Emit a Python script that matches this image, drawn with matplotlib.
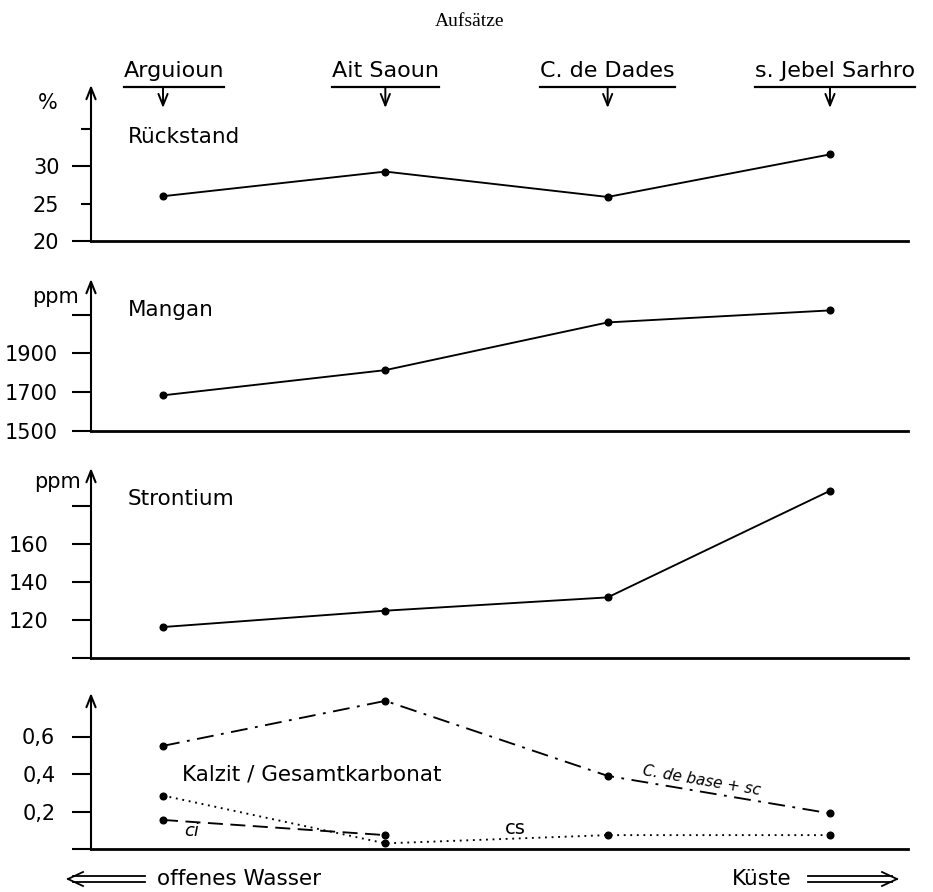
import numpy as np
import matplotlib
matplotlib.use("Agg")
import matplotlib.pyplot as plt
from matplotlib.lines import Line2D

W, H = 933, 892
plt.rcParams["font.family"] = ["DejaVu Sans"]

stations = ["Arguioun", "Ait Saoun", "C. de Dades", "s. Jebel Sarhro"]
x = np.arange(len(stations))

rueckstand = [26.0, 29.3, 25.9, 31.6]          # %
mangan = [1684, 1814, 2060, 2122]               # ppm
strontium = [116.3, 124.9, 131.9, 188.0]        # ppm
c_base_sc = [0.55, 0.79, 0.39, 0.19]            # Kalzit / Gesamtkarbonat
cs = [0.285, 0.03, 0.074, 0.074]
ci = [0.155, 0.074]                             # only first two stations

r_ticks, r_labels = [20, 25, 30, 35], ["20", "25", "30", ""]
m_ticks, m_labels = [1500, 1700, 1900, 2100], ["1500", "1700", "1900", ""]
s_ticks, s_labels = [100, 120, 140, 160, 180], ["", "120", "140", "160", ""]
k_ticks, k_labels = [0, 0.2, 0.4, 0.6], ["", "0,2", "0,4", "0,6"]


def ff(px, py):
    """pixel position (from top-left) -> figure fraction"""
    return px / W, 1 - py / H


fig = plt.figure(figsize=(W / 100, H / 100), dpi=100, facecolor="white")

# (top px, bottom px, ylim, ticks, labels, label pad)
panels = [
    (85, 241, (20, 40.9), r_ticks, r_labels, 9),
    (279, 431, (1500, 2284), m_ticks, m_labels, 10),
    (468, 658, (100, 200), s_ticks, s_labels, 17),
    (693, 849, (0, 0.832), k_ticks, k_labels, 12),
]
axes = []
for top, bot, ylim, ticks, labels, pad in panels:
    ax = fig.add_axes([91 / W, 1 - bot / H, 817 / W, (bot - top) / H])
    ax.set_xlim(-0.324, 3.351)
    ax.set_ylim(*ylim)
    for s in ["top", "right", "left"]:
        ax.spines[s].set_visible(False)
    ax.spines["bottom"].set_linewidth(2)
    ax.set_xticks([])
    ax.set_yticks(ticks)
    ax.set_yticklabels(labels)
    ax.tick_params(axis="y", direction="out", length=13.7, width=1.5, labelsize=15, pad=pad)
    ax.annotate("", xy=(0, 1), xytext=(0, -0.005), xycoords="axes fraction",
                arrowprops=dict(arrowstyle="->,head_length=0.55,head_width=0.22", lw=1.5,
                                color="k", shrinkA=0, shrinkB=0, mutation_scale=15))
    axes.append(ax)

ax1, ax2, ax3, ax4 = axes
# short ticks at 25 and 35 in the first panel
for i in (1, 3):
    ax1.yaxis.get_major_ticks()[i].tick1line.set_markersize(7)

line_kw = dict(color="k", lw=1.35, marker="o", ms=4.8, clip_on=False)
ax1.plot(x, rueckstand, **line_kw)
ax2.plot(x, mangan, **line_kw)
ax3.plot(x, strontium, **line_kw)
ax4.plot(x, c_base_sc, ls=(0, (9, 4, 1.5, 4)), **line_kw)
ax4.plot(x, cs, ls=(0, (1, 2.5)), **line_kw)
ax4.plot(x[:len(ci)], ci, ls=(0, (8, 4)), **line_kw)

# panel titles and units
titles = [("Rückstand", 128, 137), ("Mangan", 128, 310), ("Strontium", 128, 499),
          ("Kalzit / Gesamtkarbonat", 182, 775)]
for t, px, py in titles:
    fig.text(*ff(px, py), t, fontsize=15.5, ha="left", va="center")
for t, px, py in [("%", 48, 103), ("ppm", 55, 297), ("ppm", 57, 482)]:
    fig.text(*ff(px, py), t, fontsize=15, ha="center", va="center")

# curve labels in the lower panel
fig.text(*ff(192, 831), "ci", fontsize=13, style="italic", ha="center", va="center")
fig.text(*ff(515, 829), "cs", fontsize=14, ha="center", va="center")
fig.text(*ff(702, 781), "C. de base + sc", fontsize=11, style="italic", rotation=-9.7,
         rotation_mode="anchor", ha="center", va="center")

# running head
fig.text(*ff(470, 22), "Aufsätze", fontsize=14, family="Liberation Serif", ha="center", va="center")

# station headers with underline and down arrow
header_offsets = [11, 0, 0, 5]
hdr = []
for i, name in enumerate(stations):
    xpix = ax1.transData.transform((x[i], 0))[0] + header_offsets[i]
    t = fig.text(xpix / W, 1 - 77 / H, name, fontsize=16, ha="center", va="baseline")
    hdr.append(t)
    ax1.annotate("", xy=(x[i], H - 108), xytext=(x[i], H - 88),
                 xycoords=("data", "figure pixels"), textcoords=("data", "figure pixels"),
                 arrowprops=dict(arrowstyle="->,head_length=0.55,head_width=0.22", lw=1.4,
                                 color="k", shrinkA=0, shrinkB=0, mutation_scale=15),
                 annotation_clip=False)
fig.canvas.draw()
rend = fig.canvas.get_renderer()
for t in hdr:
    bb = t.get_window_extent(rend)
    fig.add_artist(Line2D([bb.x0 / W, bb.x1 / W], [1 - 87 / H] * 2, transform=fig.transFigure,
                          color="k", lw=1.6))


def double_arrow(x_tip, x_tail, y, lw=1.3):
    d = 1 if x_tail > x_tip else -1
    for dy in (-2.6, 2.6):
        fig.add_artist(Line2D([(x_tip + d * 5) / W, x_tail / W], [1 - (y + dy) / H] * 2,
                              transform=fig.transFigure, color="k", lw=lw))
    for dy in (-7, 7):
        fig.add_artist(Line2D([x_tip / W, (x_tip + d * 15) / W], [1 - y / H, 1 - (y + dy) / H],
                              transform=fig.transFigure, color="k", lw=lw))


double_arrow(68, 145, 879)
fig.text(*ff(157, 879), "offenes Wasser", fontsize=15.5, ha="left", va="center")
fig.text(*ff(732, 879), "Küste", fontsize=15.5, ha="left", va="center")
double_arrow(897, 808, 879)

fig.savefig("out.png", dpi=100, facecolor="white")
